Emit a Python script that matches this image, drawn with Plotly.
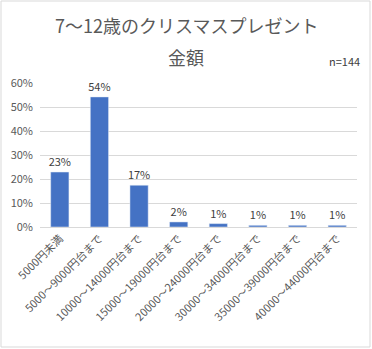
import plotly.graph_objects as go

categories = ["5000円未満", "5000～9000円台まで", "10000～14000円台まで", "15000～19000円台まで",
              "20000～24000円台まで", "30000～34000円台まで", "35000～39000円台まで", "40000～44000円台まで"]
values = [0.229, 0.542, 0.174, 0.021, 0.014, 0.007, 0.007, 0.007]
labels = ["23%", "54%", "17%", "2%", "1%", "1%", "1%", "1%"]
yticks = [0, 0.1, 0.2, 0.3, 0.4, 0.5, 0.6]
yticklabels = ["0%", "10%", "20%", "30%", "40%", "50%", "60%"]
title_lines = ["7～12歳のクリスマスプレゼント", "金額"]

W, H = 372, 349
L, R, T, B = 40, 15, 83, 122
pw, ph = W - L - R, H - T - B

font = "Noto Sans CJK JP, Noto Sans, sans-serif"

fig = go.Figure(go.Bar(
    x=categories, y=values, text=labels, textposition="outside", constraintext="none",
    textfont=dict(size=11, color="#404040", family=font),
    marker_color="#4472C4", width=0.46, cliponaxis=False,
))

def py(pix):
    return (H - B - pix) / ph

fig.update_layout(
    width=W, height=H, margin=dict(l=L, r=R, t=T, b=B),
    paper_bgcolor="white", plot_bgcolor="white",
    font=dict(family=font, color="#595959"),
    showlegend=False,
    xaxis=dict(tickangle=-45, tickfont=dict(size=11, color="#595959"), showline=True,
               linecolor="#d9d9d9", ticks=""),
    yaxis=dict(range=[0, 0.6], tickvals=yticks, ticktext=yticklabels, showgrid=True,
               gridcolor="#d9d9d9", zeroline=False, tickfont=dict(size=11, color="#595959"),
               ticks="", ticklabelstandoff=6),
    annotations=[
        dict(text=title_lines[0], xref="paper", yref="paper", x=(W / 2 - L) / pw, y=py(25),
             xanchor="center", yanchor="middle", showarrow=False,
             font=dict(size=18, color="#595959", family=font)),
        dict(text=title_lines[1], xref="paper", yref="paper", x=(W / 2 - L) / pw, y=py(57),
             xanchor="center", yanchor="middle", showarrow=False,
             font=dict(size=18, color="#595959", family=font)),
        dict(text="n=144", xref="paper", yref="paper", x=(362 - L) / pw,
             y=py(61), xanchor="right", yanchor="middle", showarrow=False,
             font=dict(size=11, color="#404040", family=font)),
    ],
    shapes=[dict(type="rect", xref="paper", yref="paper",
                 x0=(1 - L) / pw, x1=(W - 2 - L) / pw,
                 y0=py(H - 2), y1=py(1),
                 line=dict(color="#d9d9d9", width=1))],
)
fig.write_html("out.html")
